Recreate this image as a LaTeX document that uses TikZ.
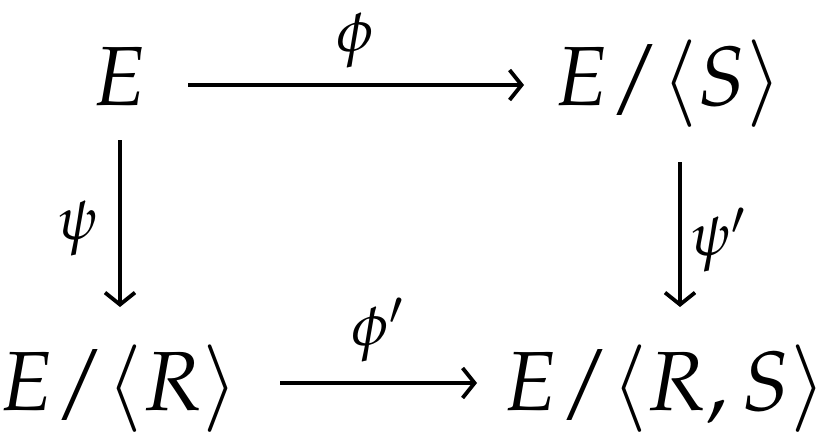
\documentclass[tikz,border=0pt]{standalone}
\usepackage{mathpazo}
\usetikzlibrary{arrows.meta}
\begin{document}
\begin{tikzpicture}[x=1pt,y=-1pt,
  lbl/.style={inner sep=0pt,font=\fontsize{84}{100}\selectfont},
  sl/.style={inner sep=0pt,font=\fontsize{60}{70}\selectfont},
  arr/.style={line width=3.8pt,-{Straight Barb[length=12pt,width=30pt,line width=3.8pt]}}]
\useasboundingbox (0,0) rectangle (829,437);
\node[lbl,anchor=base] (E) at (120,105) {$E$};
\node[lbl,anchor=base] (ES) at (668,105) {$E/\langle S\rangle$};
\node[lbl,anchor=base] (ER) at (119,410) {$E/\langle R\rangle$};
\node[lbl,anchor=base] (ERS) at (665,410) {$E/\langle R,S\rangle$};
\node[sl] (phi) at (355,40) {$\phi$};
\node[sl] (psi) at (78,228) {$\psi$};
\node[sl] (psip) at (718,240) {$\psi'$};
\node[sl] (phip) at (378,330) {$\phi'$};
\coordinate (a1) at (188,85); \coordinate (a2) at (524,85);
\coordinate (b1) at (120,140); \coordinate (b2) at (120,307);
\coordinate (c1) at (680,162); \coordinate (c2) at (680,307);
\coordinate (d1) at (280,383); \coordinate (d2) at (477,383);
\draw[arr] (a1) -- (a2);
\draw[arr] (b1) -- (b2);
\draw[arr] (c1) -- (c2);
\draw[arr] (d1) -- (d2);
\end{tikzpicture}
\end{document}
